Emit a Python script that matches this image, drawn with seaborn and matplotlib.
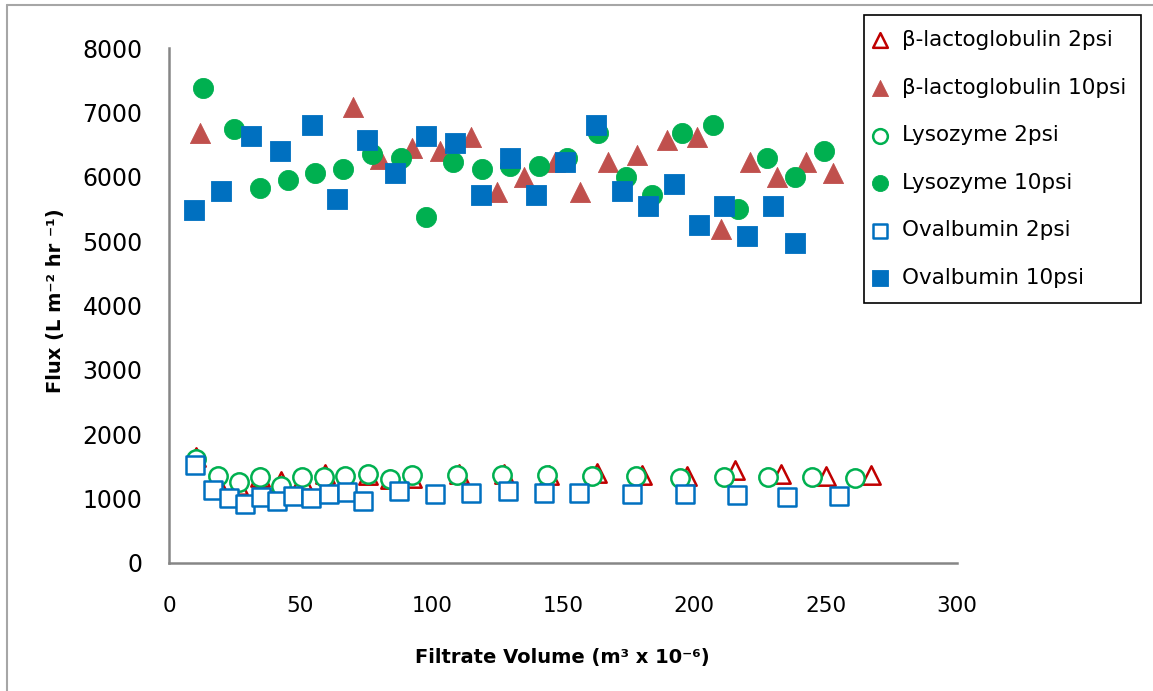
import matplotlib
matplotlib.use("Agg")
import matplotlib.pyplot as plt
from matplotlib import font_manager
from matplotlib.lines import Line2D
import seaborn as sns
import pandas as pd

# ---------------- data ----------------
blg2_x = [10.3, 18.2, 26.2, 34.6, 42.5, 50.6, 59.3, 67.1, 75.9, 84.1, 92.4, 110.3,
          127.6, 144.8, 162.8, 180.0, 197.3, 215.3, 233.0, 250.1, 267.4]
blg2_y = [1646, 1257, 1216, 1335, 1267, 1283, 1387, 1232, 1372, 1309, 1319, 1387,
          1376, 1361, 1403, 1372, 1350, 1438, 1376, 1350, 1372]

blg10_x = [11.7, 69.9, 80.3, 92.5, 103.2, 115.0, 125.0, 135.3, 146.9, 156.3, 167.1,
           178.2, 189.6, 201.1, 210.3, 221.2, 231.6, 242.5, 252.9]
blg10_y = [6685, 7089, 6275, 6451, 6400, 6622, 5762, 5991, 6224, 5762, 6224,
           6338, 6571, 6622, 5191, 6224, 5991, 6224, 6053]

lys2_x = [10.1, 18.5, 26.5, 34.6, 42.5, 50.6, 59.0, 67.1, 75.9, 84.1, 92.5, 109.5,
          126.6, 143.8, 160.9, 177.7, 194.5, 211.3, 227.9, 244.7, 261.3]
lys2_y = [1620, 1345, 1257, 1335, 1190, 1335, 1335, 1350, 1376, 1309, 1372, 1361,
          1361, 1372, 1350, 1350, 1325, 1335, 1335, 1335, 1325]

lys10_x = [12.8, 24.6, 34.8, 45.2, 55.7, 66.2, 77.3, 88.3, 97.7, 108.2, 119.3, 129.9,
           140.7, 151.6, 163.3, 173.9, 183.9, 195.4, 207.2, 216.7, 227.8, 238.3, 249.4]
lys10_y = [7375, 6747, 5829, 5944, 6057, 6120, 6353, 6291, 5373, 6233, 6120, 6166,
           6171, 6296, 6675, 6000, 5715, 6685, 6804, 5495, 6286, 6000, 6404]

ova2_x = [9.8, 16.7, 23.0, 28.8, 35.0, 41.0, 47.3, 54.1, 60.9, 67.6, 73.7, 87.7,
          101.3, 114.8, 128.9, 142.6, 156.2, 176.4, 196.4, 216.1, 235.4, 255.0]
ova2_y = [1527, 1138, 1008, 914, 1023, 961, 1034, 1008, 1076, 1101, 961, 1112,
          1076, 1086, 1112, 1086, 1086, 1065, 1065, 1050, 1023, 1039]

ova10_x = [9.6, 19.7, 31.1, 42.4, 54.3, 64.1, 75.5, 86.1, 97.7, 108.9, 118.9, 129.8,
           139.8, 150.7, 162.4, 172.6, 182.2, 192.3, 201.6, 211.3, 220.1, 229.8, 238.4]
ova10_y = [5482, 5773, 6633, 6404, 6799, 5658, 6571, 6053, 6633, 6520, 5715, 6286,
           5715, 6233, 6804, 5773, 5544, 5886, 5253, 5544, 5082, 5544, 4969]

series_labels = ["β-lactoglobulin 2psi", "β-lactoglobulin 10psi", "Lysozyme 2psi",
                 "Lysozyme 10psi", "Ovalbumin 2psi", "Ovalbumin 10psi"]
x_ticks = [0, 50, 100, 150, 200, 250, 300]
y_ticks = [0, 1000, 2000, 3000, 4000, 5000, 6000, 7000, 8000]
x_label = "Filtrate Volume (m³ x 10⁻⁶)"
y_label = "Flux (L m⁻² hr ⁻¹)"

# ---------------- style ----------------
sns.set_style("white")
plt.rcParams["font.family"] = ["DejaVu Sans"]
plt.rcParams["text.color"] = "black"
plt.rcParams["axes.labelcolor"] = "black"
plt.rcParams["xtick.color"] = "black"
plt.rcParams["ytick.color"] = "black"

names = {f.name for f in font_manager.fontManager.ttflist}
narrow = "Liberation Sans Narrow" in names
lab_family = ["Liberation Sans Narrow", "DejaVu Sans"] if narrow else ["DejaVu Sans"]
lab_size = 18 if narrow else 14
xt_size = 19 if narrow else 15.5

RED_DARK = "#C00000"
RED = "#C0504D"
GREEN = "#00B050"
BLUE = "#0070C0"

fig = plt.figure(figsize=(11.53, 6.91), dpi=100)
ax = fig.add_axes([169 / 1153, 1 - 563 / 691, (957 - 169) / 1153, (563 - 48) / 691])

specs = [
    (blg2_x, blg2_y, "^", "white", RED_DARK, 175),
    (blg10_x, blg10_y, "^", RED, RED, 210),
    (lys2_x, lys2_y, "o", "white", GREEN, 175),
    (lys10_x, lys10_y, "o", GREEN, GREEN, 210),
    (ova2_x, ova2_y, "s", "white", BLUE, 175),
    (ova10_x, ova10_y, "s", BLUE, BLUE, 210),
]
for (xs, ys, mk, fc, ec, sz), lab in zip(specs, series_labels):
    df = pd.DataFrame({"x": xs, "y": ys})
    sns.scatterplot(data=df, x="x", y="y", ax=ax, marker=mk, s=sz,
                    facecolor=fc, edgecolor=ec, linewidth=1.8 if fc == "white" else 0.6,
                    label=lab, zorder=3, clip_on=False)

ax.set_xlim(0, 300)
ax.set_ylim(0, 8000)
ax.set_xticks(x_ticks)
ax.set_yticks(y_ticks)
ax.set_xticklabels([str(v) for v in x_ticks])
ax.set_yticklabels([str(v) for v in y_ticks])

for side in ["top", "right"]:
    ax.spines[side].set_visible(False)
for side in ["left", "bottom"]:
    ax.spines[side].set_color("#868686")
    ax.spines[side].set_linewidth(1.8)

ax.tick_params(axis="both", direction="out", length=7, width=1.6, color="#868686",
               labelcolor="black")
ax.tick_params(axis="y", pad=12, labelsize=17)
ax.tick_params(axis="x", pad=17, labelsize=xt_size)
for t in ax.get_xticklabels():
    t.set_fontfamily(lab_family)

ax.set_xlabel(x_label, fontsize=lab_size, fontweight="bold", family=lab_family,
              va="center", color="black")
ax.set_ylabel(y_label, fontsize=lab_size, fontweight="bold", family=lab_family,
              va="center", color="black")
ax.xaxis.set_label_coords((562 - 169) / 788, (563 - 658) / 515)
ax.yaxis.set_label_coords((56 - 169) / 788, (563 - 301) / 515)

leg = ax.legend(loc="upper left", bbox_to_anchor=(864 / 1153, 1 - 15 / 691),
                bbox_transform=fig.transFigure, borderaxespad=0, frameon=True,
                fancybox=False, framealpha=1, edgecolor="black", fontsize=15.5,
                markerscale=0.8, handlelength=0.1, handletextpad=0.97,
                labelspacing=1.28, borderpad=0.7)
leg.get_frame().set_linewidth(1.2)
for t in leg.get_texts():
    t.set_color("black")

# outer chart-area border (top and left visible)
fig.add_artist(Line2D([7 / 1153, 7 / 1153], [0, 1 - 5 / 691], transform=fig.transFigure,
                      color="#a6a6a6", lw=1.5))
fig.add_artist(Line2D([7 / 1153, 1], [1 - 5 / 691, 1 - 5 / 691], transform=fig.transFigure,
                      color="#a6a6a6", lw=1.5))

fig.savefig("out.png", dpi=100, facecolor="white")
